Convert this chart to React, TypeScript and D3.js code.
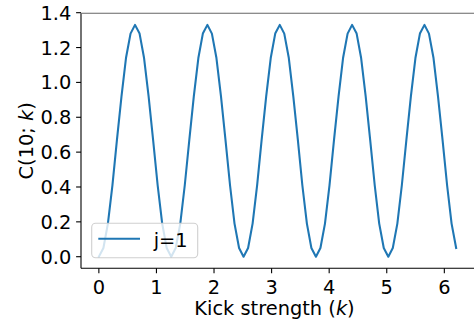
import * as d3 from "d3";

const width = 474;
const height = 327;
const margin = { top: 13.3, right: 0, bottom: 58.7, left: 81 };

// kick strength samples
const kick = [
  0, 0.079, 0.157, 0.236, 0.314, 0.393, 0.471, 0.55, 0.628, 0.707, 0.785, 0.864, 0.942, 1.021, 1.1, 1.178,
  1.257, 1.335, 1.414, 1.492, 1.571, 1.649, 1.728, 1.806, 1.885, 1.963, 2.042, 2.121, 2.199, 2.278, 2.356, 2.435,
  2.513, 2.592, 2.67, 2.749, 2.827, 2.906, 2.985, 3.063, 3.142, 3.22, 3.299, 3.377, 3.456, 3.534, 3.613, 3.691,
  3.77, 3.848, 3.927, 4.006, 4.084, 4.163, 4.241, 4.32, 4.398, 4.477, 4.555, 4.634, 4.712, 4.791, 4.869, 4.948,
  5.027, 5.105, 5.184, 5.262, 5.341, 5.419, 5.498, 5.576, 5.655, 5.733, 5.812, 5.89, 5.969, 6.048, 6.126, 6.205,
];

// C(10; k) for j=1
const c10 = [
  0, 0.05, 0.19, 0.41, 0.67, 0.92, 1.14, 1.28, 1.33, 1.28, 1.14, 0.92, 0.67, 0.41, 0.19, 0.05,
  0, 0.05, 0.19, 0.41, 0.67, 0.92, 1.14, 1.28, 1.33, 1.28, 1.14, 0.92, 0.67, 0.41, 0.19, 0.05,
  0, 0.05, 0.19, 0.41, 0.67, 0.92, 1.14, 1.28, 1.33, 1.28, 1.14, 0.92, 0.67, 0.41, 0.19, 0.05,
  0, 0.05, 0.19, 0.41, 0.67, 0.92, 1.14, 1.28, 1.33, 1.28, 1.14, 0.92, 0.67, 0.41, 0.19, 0.05,
  0, 0.05, 0.19, 0.41, 0.67, 0.92, 1.14, 1.28, 1.33, 1.28, 1.14, 0.92, 0.67, 0.41, 0.19, 0.05,
];

const xTicks = [0, 1, 2, 3, 4, 5, 6];
const yTicks = [0, 0.2, 0.4, 0.6, 0.8, 1.0, 1.2, 1.4];
const seriesLabel = "j=1";

const font = "DejaVu Sans, sans-serif";
const fontSize = 19.4;
const blue = "#1f77b4";

const App = () => {
  const xMin = d3.min(kick) as number;
  const xMax = d3.max(kick) as number;
  const xPad = (xMax - xMin) * 0.05;
  const yMin = d3.min(c10) as number;
  const yMax = d3.max(c10) as number;
  const yPad = (yMax - yMin) * 0.05;

  const x = d3
    .scaleLinear()
    .domain([xMin - xPad, xMax + xPad])
    .range([margin.left, width - margin.right]);
  const y = d3
    .scaleLinear()
    .domain([yMin - yPad, yMax + yPad])
    .range([height - margin.bottom, margin.top]);

  const line = d3
    .line<number>()
    .x((_, i) => x(kick[i]))
    .y((d) => y(d));

  const x0 = margin.left;
  const y0 = height - margin.bottom;

  // legend box (lower left)
  const lx = x0 + 10.7;
  const ly = y0 - 45;
  const lw = 106;
  const lh = 34.4;

  return (
    <svg
      width={width}
      height={height}
      style={{ position: "absolute", left: 0, top: 0, background: "#fff" }}
      fontFamily={font}
    >
      <path d={line(c10) ?? ""} fill="none" stroke={blue} strokeWidth={2.08} strokeLinejoin="round" strokeLinecap="square" />

      {/* spines */}
      <line x1={x0} x2={x0} y1={margin.top} y2={y0} stroke="#000" strokeWidth={1.1} />
      <line x1={x0} x2={width} y1={y0} y2={y0} stroke="#000" strokeWidth={1.1} />
      <line x1={x0} x2={width} y1={margin.top} y2={margin.top} stroke="#666" strokeWidth={1.1} />

      {/* y ticks */}
      {yTicks.map((t) => (
        <g key={t}>
          <line x1={x0 - 4.9} x2={x0} y1={y(t)} y2={y(t)} stroke="#000" strokeWidth={1.1} />
          <text x={x0 - 9.7} y={y(t)} dy="0.36em" textAnchor="end" fontSize={fontSize}>
            {t.toFixed(1)}
          </text>
        </g>
      ))}

      {/* x ticks */}
      {xTicks.map((t) => (
        <g key={t}>
          <line x1={x(t)} x2={x(t)} y1={y0} y2={y0 + 4.9} stroke="#000" strokeWidth={1.1} />
          <text x={x(t)} y={y0 + 25.6} textAnchor="middle" fontSize={fontSize}>
            {t}
          </text>
        </g>
      ))}

      {/* axis labels */}
      <text x={274.5} y={315} textAnchor="middle" fontSize={fontSize}>
        Kick strength (<tspan fontStyle="italic">k</tspan>)
      </text>
      <text
        transform={`translate(33,${(margin.top + y0) / 2}) rotate(-90)`}
        textAnchor="middle"
        fontSize={fontSize}
      >
        C(10; <tspan fontStyle="italic">k</tspan>)
      </text>

      {/* legend */}
      <rect x={lx} y={ly} width={lw} height={lh} rx={3.9} fill="#fff" fillOpacity={0.8} stroke="#d0d0d0" strokeWidth={1.1} />
      <line x1={lx + 6.6} x2={lx + 48.3} y1={ly + 15.4} y2={ly + 15.4} stroke={blue} strokeWidth={2.08} />
      <text x={lx + 62} y={ly + 24} fontSize={fontSize}>
        {seriesLabel}
      </text>
    </svg>
  );
};

export default App;
